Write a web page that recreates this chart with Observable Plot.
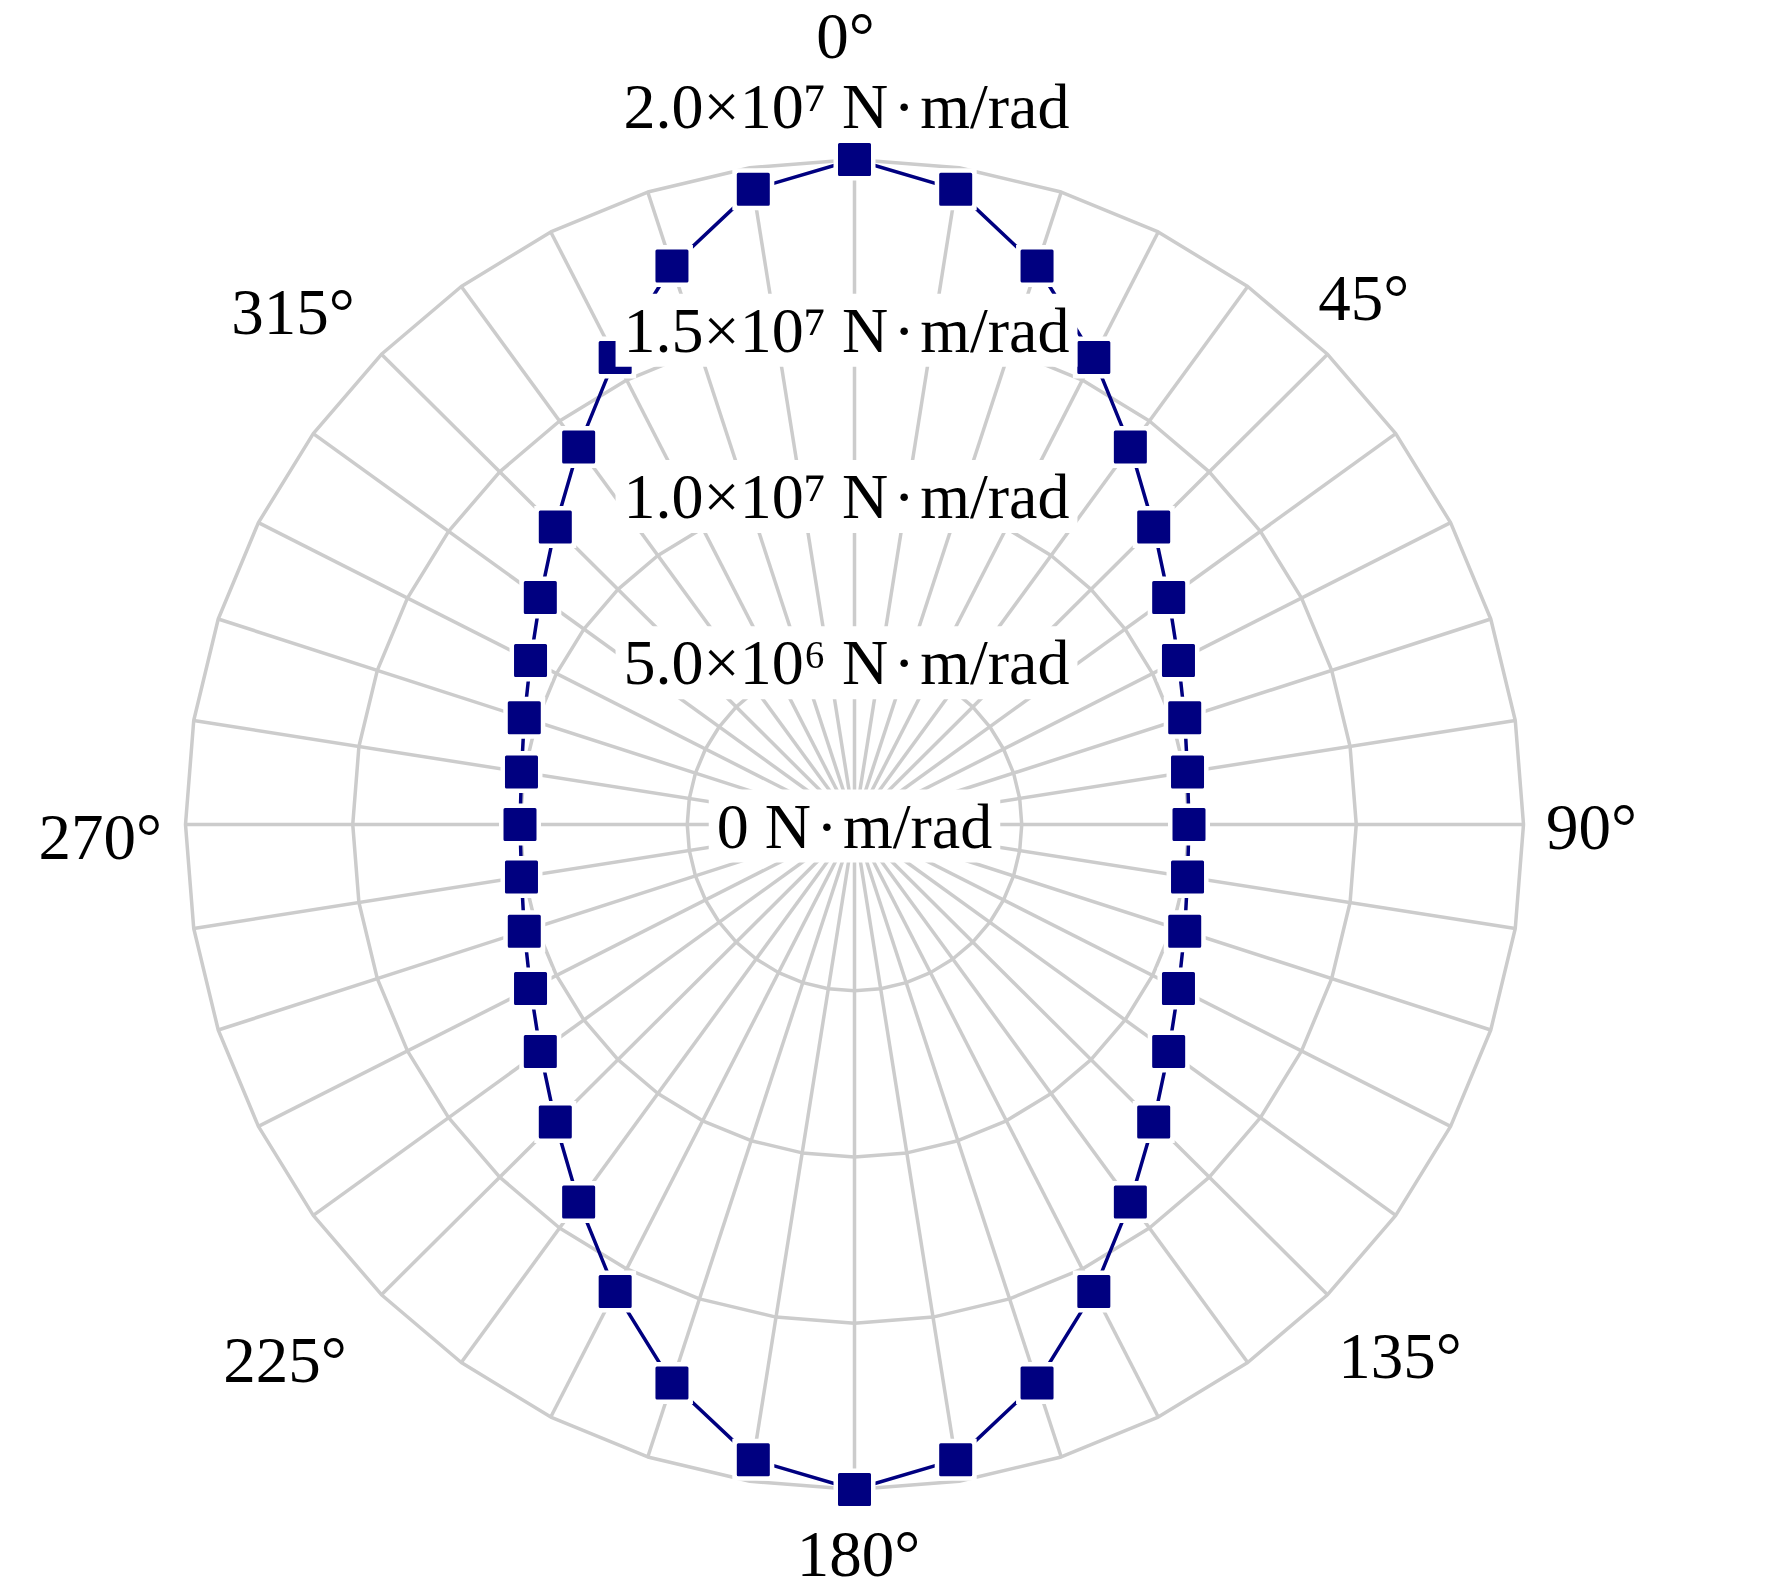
<!DOCTYPE html>
<html>
<head>
<meta charset="utf-8">
<script src="https://cdn.jsdelivr.net/npm/d3@7"></script>
<script src="https://cdn.jsdelivr.net/npm/@observablehq/plot@0.6"></script>
<style>
  html, body { margin: 0; padding: 0; background: #fff; }
</style>
</head>
<body>
<div id="chart"></div>
<script>
// ---- data ----
const angles = [0, 9, 18, 27, 36, 45, 54, 63, 72, 81, 90, 99, 108, 117, 126, 135, 144, 153, 162, 171,
                180, 189, 198, 207, 216, 225, 234, 243, 252, 261, 270, 279, 288, 297, 306, 315, 324, 333, 342, 351];
const stiffness = [2.000e7, 1.934e7, 1.766e7, 1.576e7, 1.403e7, 1.265e7, 1.161e7, 1.087e7, 1.038e7, 1.008e7,
                   1.000e7, 1.008e7, 1.038e7, 1.087e7, 1.161e7, 1.265e7, 1.403e7, 1.576e7, 1.766e7, 1.934e7,
                   2.000e7, 1.934e7, 1.766e7, 1.576e7, 1.403e7, 1.265e7, 1.161e7, 1.087e7, 1.038e7, 1.008e7,
                   1.000e7, 1.008e7, 1.038e7, 1.087e7, 1.161e7, 1.265e7, 1.403e7, 1.576e7, 1.766e7, 1.934e7];
const gridAngles = angles;
const ringValues = [5e6, 1e7, 1.5e7, 2e7];
const ringTickValues = [0, 5e6, 1e7, 1.5e7, 2e7];
const ringTickLabels = ["0 N\u200A·\u200Am/rad", "5.0×10⁶ N\u200A·\u200Am/rad", "1.0×10⁷ N\u200A·\u200Am/rad",
                        "1.5×10⁷ N\u200A·\u200Am/rad", "2.0×10⁷ N\u200A·\u200Am/rad"];
const angleTicks = [0, 45, 90, 135, 180, 225, 270, 315];
const angleTickLabels = ["0°", "45°", "90°", "135°", "180°", "225°", "270°", "315°"];
const rMax = 2e7;
const labelRadius = 2.1e7;

// ---- helpers (polar -> cartesian in data units) ----
const rad = a => a * Math.PI / 180;
const px = (a, v) => v * Math.sin(rad(a));
const py = (a, v) => v * Math.cos(rad(a));

const points = angles.map((a, i) => ({a, v: stiffness[i]}));
const ringPts = ringValues.flatMap(r => gridAngles.map(a => ({a, v: r, ring: r})));
const ringTicks = ringTickValues.map((v, i) => ({v, label: ringTickLabels[i]}));

const FONT = "'Liberation Serif', 'Times New Roman', serif";
const FS = 65;
const FS_R = 64;
const grid = "#cccccc";
const navy = "#000080";

const nudge = {0: [-9, -68], 45: [-33, -11], 90: [-11, 4], 135: [-13, 14],
               180: [4, 7], 225: [-11, 18], 270: [10, 14], 315: [-3, 3]};

const angleLabelMarks = angleTicks.map((a, i) => Plot.text([i], {
  x: j => px(angleTicks[j], labelRadius),
  y: j => py(angleTicks[j], labelRadius),
  text: j => angleTickLabels[j],
  textAnchor: (a === 0 || a === 180) ? "middle" : (a < 180 ? "start" : "end"),
  lineAnchor: (a === 90 || a === 270) ? "middle" : ((a < 90 || a > 270) ? "bottom" : "top"),
  dx: nudge[a][0], dy: nudge[a][1],
  fontSize: FS, fontFamily: FONT, fill: "black"
}));

const chart = Plot.plot({
  width: 1772,
  height: 1594,
  margin: 0,
  style: {background: "white", fontFamily: FONT},
  x: {domain: [-rMax, rMax], range: [854 - 669, 854 + 669], axis: null},
  y: {domain: [-rMax, rMax], range: [824 + 665, 824 - 665], axis: null},
  marks: [
    // spokes
    Plot.link(gridAngles, {
      x1: () => 0, y1: () => 0,
      x2: a => px(a, rMax), y2: a => py(a, rMax),
      stroke: grid, strokeWidth: 3.5
    }),
    // rings (polygons)
    Plot.line(ringPts, {
      x: d => px(d.a, d.v), y: d => py(d.a, d.v), z: "ring",
      curve: "linear-closed", stroke: grid, strokeWidth: 3.5
    }),
    // data line
    Plot.line(points, {
      x: d => px(d.a, d.v), y: d => py(d.a, d.v),
      curve: "linear-closed", stroke: navy, strokeWidth: 3.5
    }),
    // marker halos
    Plot.dot(points, {
      x: d => px(d.a, d.v), y: d => py(d.a, d.v),
      symbol: "square", r: 42 / Math.sqrt(Math.PI), fill: "white"
    }),
    // markers
    Plot.dot(points, {
      x: d => px(d.a, d.v), y: d => py(d.a, d.v),
      symbol: "square", r: 30 / Math.sqrt(Math.PI),
      fill: navy, stroke: navy, strokeWidth: 3, strokeLinejoin: "round"
    }),
    // ring labels
    Plot.text(ringTicks.filter(d => d.v === 0), {
      x: () => 0, y: d => d.v, text: "label",
      textAnchor: "middle", lineAnchor: "bottom", dy: 23,
      fontSize: FS_R, fontFamily: FONT, fill: "black"
    }),
    Plot.text(ringTicks.filter(d => d.v > 0 && d.v < rMax), {
      x: () => 0, y: d => d.v, text: "label",
      textAnchor: "middle", lineAnchor: "bottom", dx: -8, dy: 26,
      fontSize: FS_R, fontFamily: FONT, fill: "black"
    }),
    Plot.text(ringTicks.filter(d => d.v === rMax), {
      x: () => 0, y: d => d.v, text: "label",
      textAnchor: "middle", lineAnchor: "bottom", dx: -8, dy: -32,
      fontSize: FS_R, fontFamily: FONT, fill: "black"
    }),
    ...angleLabelMarks
  ]
});

document.getElementById("chart").append(chart);

// white background boxes behind the ring labels
const ringTextNodes = Array.from(chart.querySelectorAll("text"))
  .filter(t => (t.textContent || "").indexOf("rad") >= 0);
ringTextNodes.forEach(node => {
  const b = node.getBBox();
  const padX = 8, padY = 1;
  const r = document.createElementNS("http://www.w3.org/2000/svg", "rect");
  r.setAttribute("x", b.x - padX);
  r.setAttribute("y", b.y - padY);
  r.setAttribute("width", b.width + 2 * padX);
  r.setAttribute("height", b.height + 2 * padY);
  r.setAttribute("fill", "white");
  r.setAttribute("stroke", "none");
  const tr = node.getAttribute("transform");
  if (tr) r.setAttribute("transform", tr);
  node.parentNode.insertBefore(r, node);
});
</script>
</body>
</html>
